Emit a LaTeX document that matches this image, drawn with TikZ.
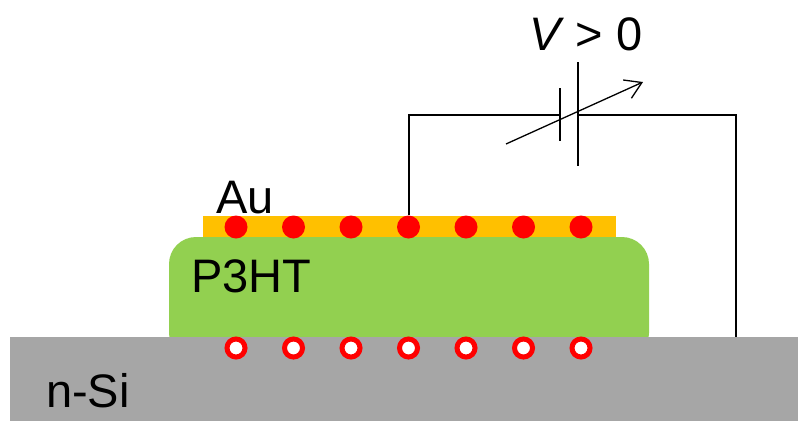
\documentclass[tikz,border=0pt]{standalone}
\usepackage{fontspec}
\setmainfont{Liberation Sans}
\usetikzlibrary{arrows.meta}
\definecolor{silicon}{HTML}{A6A6A6}
\definecolor{polymer}{HTML}{92D050}
\definecolor{gold}{HTML}{FFC000}
\definecolor{charge}{HTML}{FF0000}
\tikzset{
  lbl/.style={anchor=base west,inner sep=0pt,font=\fontsize{47}{47}\selectfont},
  hole/.style={circle,fill=charge,minimum size=23pt,inner sep=0pt},
  elec/.style={circle,draw=charge,line width=5pt,fill=white,minimum size=18pt,inner sep=0pt},
  wire/.style={draw=black,line width=2pt},
  plate/.style={draw=black,line width=2.2pt},
  tune/.style={-{Straight Barb[length=16pt,width=20pt]},draw=black,line width=1.3pt},
}

\begin{document}
\begin{tikzpicture}[x=1pt,y=1pt]
  \useasboundingbox (0,0) rectangle (798,-421);
  % layer stack: polymer first, substrate covers its lower edge
  \fill[polymer,rounded corners=27pt] (169,-360) rectangle (649,-237);
  \fill[silicon] (10,-337) rectangle (798,-421);
  \fill[gold] (203,-216) rectangle (616,-237);
  \foreach \i in {1,...,7} {
    \node[hole] (h\i) at ({236+57.5*(\i-1)},-227) {};
    \node[elec] (e\i) at ({236+57.5*(\i-1)},-348) {};
  }
  % bias circuit
  \coordinate (bl) at (560,-115);
  \coordinate (br) at (578,-115);
  \coordinate (gnd) at (736,-337);
  \draw[wire] (h4.north) |- (bl);
  \draw[wire] (br) -| (gnd);
  \draw[plate] (560,-88) -- (560,-141);
  \draw[plate] (578,-62) -- (578,-166);
  \draw[tune] (506,-144) -- (643,-82);
  % labels
  \node[lbl] (au) at (216,-213) {Au};
  \node[lbl] (p3ht) at (191,-292) {P3HT};
  \node[lbl] (nsi) at (46,-407) {n-Si};
  \node[lbl,anchor=base] (bias) at (586,-50) {\textit{V}\hspace{-2pt} > 0};
\end{tikzpicture}
\end{document}
